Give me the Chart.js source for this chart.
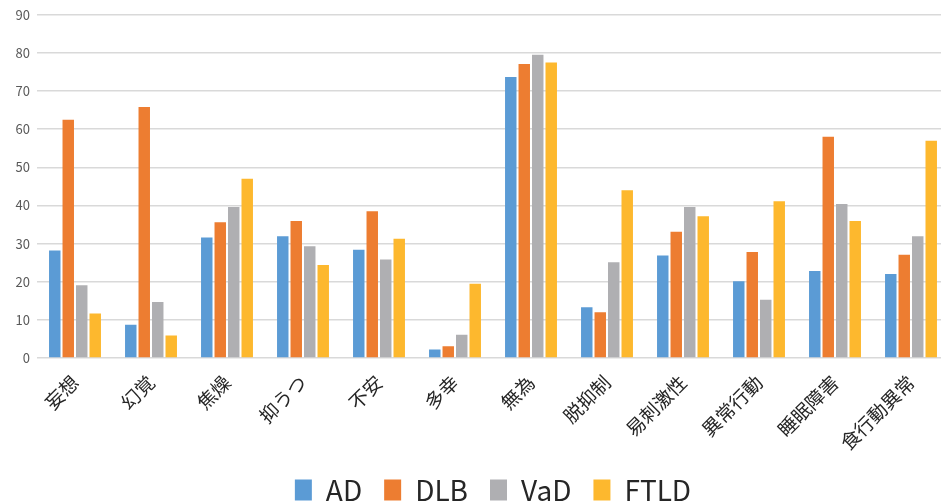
<!DOCTYPE html>
<html lang="ja">
<head>
<meta charset="utf-8">
<script src="https://cdn.jsdelivr.net/npm/chart.js@4"></script>
<style>
  html, body { margin: 0; padding: 0; background: #fff; overflow: hidden; }
  #wrap { position: relative; width: 952px; height: 504px; }
</style>
</head>
<body>
<div id="wrap"><canvas id="c"></canvas></div>
<script>
// 症状ごとの出現率（%）
const categories = ['妄想', '幻覚', '焦燥', '抑うつ', '不安', '多幸', '無為', '脱抑制', '易刺激性', '異常行動', '睡眠障害', '食行動異常'];
const seriesNames = ['AD', 'DLB', 'VaD', 'FTLD'];
const adValues   = [28.2,  8.7, 31.6, 31.9, 28.4,  2.2, 73.7, 13.3, 26.9, 20.1, 22.8, 22.0];
const dlbValues  = [62.5, 65.8, 35.6, 35.9, 38.5,  3.1, 77.1, 12.0, 33.1, 27.8, 58.0, 27.1];
const vadValues  = [19.1, 14.7, 39.6, 29.3, 25.8,  6.1, 79.5, 25.1, 39.6, 15.3, 40.4, 31.9];
const ftldValues = [11.7,  5.9, 47.0, 24.4, 31.3, 19.5, 77.5, 44.0, 37.2, 41.1, 35.9, 57.0];
const yTicks = [0, 10, 20, 30, 40, 50, 60, 70, 80, 90];

const colors = ['#5B9BD5', '#ED7D31', '#AFAFB2', '#FDB82E'];
const seriesValues = [adValues, dlbValues, vadValues, ftldValues];
const FONT = '"Noto Sans CJK JP", "Noto Sans", sans-serif';

new Chart(document.getElementById('c'), {
  type: 'bar',
  data: {
    labels: categories,
    datasets: seriesNames.map((name, i) => ({
      label: name,
      data: seriesValues[i],
      backgroundColor: colors[i],
      borderWidth: 0,
      categoryPercentage: 0.71,
      barPercentage: 0.85
    }))
  },
  options: {
    responsive: true,
    maintainAspectRatio: false,
    animation: false,
    layout: { padding: { top: 6, right: 3, left: 0, bottom: -10 } },
    plugins: {
      tooltip: { enabled: false },
      legend: {
        position: 'bottom',
        fullSize: false,
        labels: {
          font: { family: FONT, size: 28 },
          color: '#262626',
          boxWidth: 17,
          boxHeight: 21,
          padding: 22
        }
      }
    },
    scales: {
      x: {
        grid: { display: false, drawTicks: false },
        border: { display: false },
        ticks: {
          font: { family: FONT, size: 19 },
          color: '#262626',
          minRotation: 45,
          maxRotation: 45,
          padding: 13,
          autoSkip: false
        },
        afterFit: (s) => { s.height = 96; }
      },
      y: {
        min: 0,
        max: 90,
        afterBuildTicks: (s) => { s.ticks = yTicks.map(v => ({ value: v })); },
        grid: { color: '#D9D9D9', lineWidth: 1.5, drawTicks: false },
        border: { display: false },
        ticks: {
          font: { family: FONT, size: 13 },
          color: '#595959',
          padding: 7
        },
        afterFit: (s) => { s.width = 37; }
      }
    }
  }
});
</script>
</body>
</html>
